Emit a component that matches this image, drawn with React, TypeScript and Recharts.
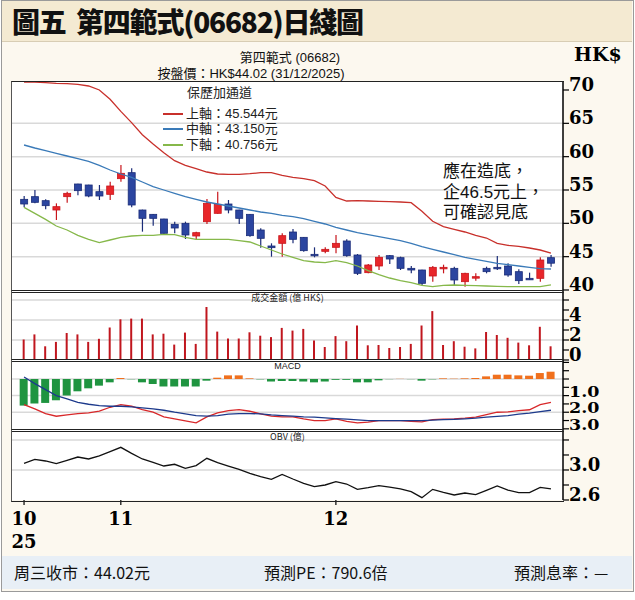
import React from 'react';
import { ComposedChart, Bar, Line, XAxis, YAxis, CartesianGrid, Cell } from 'recharts';

// Trading days, 20 Oct 2025 - 31 Dec 2025
const days = [
  '10-20','10-21','10-22','10-23','10-24','10-27','10-28','10-30','10-31',
  '11-03','11-04','11-05','11-06','11-07','11-10','11-11','11-12','11-13','11-14','11-17','11-18','11-19','11-20','11-21','11-24','11-25','11-26','11-27','11-28',
  '12-01','12-02','12-03','12-04','12-05','12-08','12-09','12-10','12-11','12-12','12-15','12-16','12-17','12-18','12-19','12-22','12-23','12-24','12-29','12-30','12-31',
];

const openP = [53.6,54.0,53.4,52.0,54.0,55.9,55.75,54.75,54.35,56.7,57.6,52.0,51.35,50.65,49.85,50.0,48.1,50.25,51.5,52.9,52.0,51.35,49.0,46.6,47.0,48.7,47.9,45.35,45.8,46.4,47.35,45.25,42.6,43.6,45.15,44.85,43.25,43.0,42.1,43.25,43.25,41.25,41.85,43.25,43.4,43.6,42.75,41.75,41.75,44.85];
const highP = [54.1,55.0,53.6,53.0,54.75,55.95,55.8,55.75,56.25,58.75,58.25,52.05,51.4,50.7,50.25,50.25,48.75,53.65,54.75,53.5,52.05,51.4,49.25,47.0,48.5,49.15,47.95,46.4,46.4,48.25,47.6,45.4,43.9,45.25,45.25,45.0,43.6,43.05,43.6,43.8,43.5,42.6,42.5,43.5,45.1,44.0,43.1,42.6,44.9,45.25];
const lowP = [52.4,53.0,52.1,50.5,53.1,54.2,53.9,53.5,53.5,56.25,52.4,48.75,49.65,48.4,48.5,47.65,47.6,49.9,51.45,51.5,49.9,48.0,46.35,45.0,45.0,47.0,45.75,44.9,45.5,45.5,45.0,42.25,42.5,43.0,43.9,43.0,42.5,40.75,41.25,42.5,40.75,40.5,41.4,42.5,43.0,42.0,40.9,41.5,41.25,43.5];
const closeP = [52.9,53.15,52.65,52.5,54.5,54.9,54.1,54.1,55.6,57.5,52.75,50.75,50.75,48.5,49.3,48.25,48.6,53.0,52.85,52.0,50.75,48.15,47.75,46.35,48.15,47.6,45.9,45.15,46.1,47.0,45.15,42.5,43.75,44.9,44.65,43.25,43.0,41.0,43.4,43.4,41.5,42.5,42.0,42.75,43.2,42.25,41.4,41.6,44.5,44.02];

const bollUpper = [71.2,71.2,71.1,71.0,70.95,70.85,70.6,70.0,68.6,66.8,65.1,63.3,61.9,60.6,59.4,58.7,58.2,57.7,57.4,57.35,57.35,57.45,57.6,57.6,57.2,56.9,56.7,56.4,55.6,53.9,53.35,53.4,53.35,53.3,53.25,53.2,53.1,51.8,50.3,49.5,49.1,48.7,48.2,47.8,47.0,46.7,46.55,46.3,46.0,45.544];
const bollMiddle = [61.75,61.3,60.9,60.5,60.1,59.7,59.3,58.7,58.0,57.4,56.9,56.2,55.5,55.0,54.5,54.0,53.6,53.2,52.9,52.6,52.3,52.0,51.7,51.5,51.2,51.0,50.7,50.3,49.9,49.4,49.0,48.6,48.3,48.0,47.7,47.4,47.0,46.5,46.1,45.7,45.3,44.9,44.6,44.3,44.0,43.8,43.6,43.4,43.2,43.15];
const bollLower = [52.4,51.5,50.6,49.6,49.0,48.2,47.6,47.1,47.5,47.9,48.1,48.2,48.2,48.35,48.3,47.9,47.6,47.6,47.6,47.6,47.4,47.2,46.6,46.0,45.4,44.9,44.4,44.2,44.1,44.4,44.1,43.6,42.9,42.3,41.8,41.4,41.1,40.7,40.5,40.7,40.75,40.7,40.65,40.6,40.55,40.5,40.5,40.5,40.5,40.756];

// 成交金額 (億 HK$)
const turnover = [2.05,2.56,1.37,1.81,2.7,2.56,1.81,2.12,3.25,4.07,4.14,4.14,2.56,2.63,1.54,2.74,1.61,5.3,2.84,2.15,2.15,2.77,2.43,2.29,3.21,2.94,3.11,1.95,1.3,2.39,1.88,3.45,1.47,1.5,1.2,1.3,1.61,3.45,4.89,1.5,1.88,1.33,1.16,2.8,2.5,2.22,1.74,1.47,3.32,1.37];

// MACD
const macdHist = [-1.6,-1.48,-1.44,-1.28,-1.0,-0.74,-0.56,-0.4,-0.2,0.06,-0.02,-0.2,-0.3,-0.45,-0.45,-0.45,-0.45,-0.1,0.08,0.22,0.22,0.04,-0.02,-0.15,-0.12,-0.12,-0.15,-0.2,-0.15,-0.05,-0.05,-0.2,-0.2,-0.08,-0.01,0.01,-0.01,-0.1,-0.02,0.04,0.02,0.04,0.06,0.16,0.26,0.26,0.22,0.2,0.36,0.44];
const macdDif = [-1.54,-1.8,-2.08,-2.24,-2.16,-2.08,-2.04,-1.94,-1.7,-1.54,-1.64,-1.84,-2.0,-2.28,-2.4,-2.52,-2.64,-2.28,-2.04,-1.9,-1.84,-1.94,-2.1,-2.24,-2.28,-2.28,-2.4,-2.5,-2.5,-2.4,-2.55,-2.64,-2.6,-2.5,-2.5,-2.5,-2.55,-2.58,-2.45,-2.42,-2.4,-2.36,-2.3,-2.14,-2.0,-1.98,-1.9,-1.85,-1.54,-1.4];
const macdDea = [0.12,-0.28,-0.64,-1.0,-1.2,-1.4,-1.52,-1.6,-1.64,-1.64,-1.68,-1.74,-1.8,-1.88,-2.0,-2.1,-2.2,-2.24,-2.2,-2.12,-2.08,-2.08,-2.1,-2.16,-2.2,-2.24,-2.28,-2.3,-2.34,-2.38,-2.42,-2.46,-2.5,-2.5,-2.5,-2.5,-2.5,-2.5,-2.48,-2.45,-2.43,-2.4,-2.36,-2.3,-2.25,-2.2,-2.12,-2.05,-1.96,-1.88];

// OBV (億)
const obv = [3.089,3.142,3.12,3.084,3.129,3.173,3.147,3.187,3.244,3.302,3.222,3.147,3.102,3.053,3.076,3.022,3.058,3.156,3.098,3.053,3.009,2.956,2.911,2.876,2.942,2.88,2.822,2.778,2.8,2.844,2.813,2.742,2.764,2.791,2.773,2.747,2.711,2.631,2.742,2.702,2.667,2.693,2.671,2.729,2.787,2.733,2.698,2.698,2.769,2.747];

const xTickIdx = [0, 9, 29];
const xTickLabels = [['10', '25'], ['11'], ['12']];

const priceTicks = [40, 45, 50, 55, 60, 65, 70];
const priceGrid = [45, 50, 55, 60, 65];
const volTicks = [0, 1, 2, 3, 4, 5, 6];
const volLabels: Record<number, string> = { 0: '0', 2: '2', 4: '4' };
const volGrid = [2, 4, 6];
const macdTicks = [1, 0.5, 0, -0.5, -1, -1.5, -2, -2.5, -3];
const macdLabels: Record<number, string> = { [-1]: '1.0', [-2]: '2.0', [-3]: '3.0' };
const macdGrid = [0, -1, -2];
const obvTicks = [2.6, 2.8, 3.0, 3.2, 3.4];
const obvLabels: Record<number, string> = { 2.6: '2.6', 3: '3.0' };
const obvGrid = [3.0, 3.4];

const data = days.map((d, i) => ({
  i,
  d,
  open: openP[i],
  high: highP[i],
  low: lowP[i],
  close: closeP[i],
  range: [lowP[i], highP[i]],
  upper: bollUpper[i],
  middle: bollMiddle[i],
  lower: bollLower[i],
  vol: turnover[i],
  hist: macdHist[i],
  dif: macdDif[i],
  dea: macdDea[i],
  obv: obv[i],
}));

const W = 635;
const PL = 12;
const AXW = 72;
const XDOM: [number, number] = [-1.12, 50.12];
const CJK = "'Noto Sans CJK TC', 'Noto Sans', sans-serif";
const LAT_CJK = "'Liberation Sans', 'Noto Sans CJK TC', sans-serif";
const SERIF = "'DejaVu Serif', serif";

const Candle = (props: any) => {
  const { x, y, width, height, payload } = props;
  if (!payload) return null;
  const { open, close, high, low } = payload;
  const y0 = height < 0 ? y + height : y;
  const h = Math.abs(height);
  const span = high - low || 1;
  const py = (v: number) => y0 + ((high - v) / span) * h;
  const up = close > open;
  const cx = x + width / 2;
  const top = py(Math.max(open, close));
  const bot = py(Math.min(open, close));
  const bh = Math.max(bot - top, 1.5);
  const fill = up ? '#e8262a' : '#2b45a0';
  const stroke = up ? '#c8161c' : '#1b2c78';
  return (
    <g>
      <line x1={cx} y1={y0} x2={cx} y2={y0 + h} stroke={stroke} strokeWidth={1.2} />
      <rect x={x} y={top} width={width} height={bh} fill={fill} stroke={stroke} strokeWidth={0.8} />
    </g>
  );
};

const makeRightTick = (labels: Record<number, string> | null, fs = 18, sx = 1) => (props: any) => {
  const { x, y, payload } = props;
  const v = payload.value;
  const key = Object.keys(labels || {}).find((k) => Math.abs(Number(k) - v) < 1e-6);
  const label = labels === null ? String(v) : key !== undefined ? (labels as any)[key] : '';
  return (
    <g>
      <line x1={x} y1={y} x2={x + 6} y2={y} stroke="#000" strokeWidth={1.2} />
      {label ? (
        <text
          x={0}
          y={0}
          transform={`translate(${x + 6},${y + 1}) scale(${sx},1)`}
          fontFamily={SERIF}
          fontWeight="bold"
          fontSize={fs}
          fill="#000"
          textAnchor="start"
        >
          {label}
        </text>
      ) : null}
    </g>
  );
};

const BottomTick = (props: any) => {
  const { x, y, payload } = props;
  const idx = xTickIdx.indexOf(payload.value);
  const lines = idx >= 0 ? xTickLabels[idx] : [];
  return (
    <g>
      <line x1={x} y1={y} x2={x} y2={y + 5} stroke="#000" strokeWidth={1.2} />
      {lines.map((t, k) => (
        <text key={k} x={x} y={y + 25 + k * 23} fontFamily={SERIF} fontWeight="bold" fontSize={18} fill="#000" textAnchor="middle">
          {t}
        </text>
      ))}
    </g>
  );
};

const panelBox = (top: number, height: number): React.CSSProperties => ({
  position: 'absolute',
  left: PL,
  top,
  width: W - PL - AXW,
  height,
  background: '#fff',
});

const panelBorder = (top: number, height: number): React.CSSProperties => ({
  position: 'absolute',
  left: PL - 1,
  top: top - 1,
  width: W - PL - AXW + 1,
  height: height + 1,
  borderLeft: '1px solid #555',
  borderTop: '1.5px solid #222',
  borderBottom: '1.5px solid #222',
  pointerEvents: 'none',
});

const abs = (left: number, top: number, extra: React.CSSProperties = {}): React.CSSProperties => ({
  position: 'absolute',
  left,
  top,
  whiteSpace: 'nowrap',
  ...extra,
});

export default function App() {
  const MAIN_T = 82, MAIN_H = 208;
  const VOL_T = 291, VOL_H = 69;
  const MACD_T = 360, MACD_H = 70;
  const OBV_T = 430, OBV_H = 70;
  const margin = { left: PL, right: 0, top: 0, bottom: 0 };

  return (
    <div style={{ position: 'absolute', left: 0, top: 0, width: W, height: 600, background: '#fff', fontFamily: CJK }}>
      <style>{'.recharts-surface{overflow:visible}.recharts-wrapper{overflow:visible}'}</style>
      {/* frame */}
      <div style={{ position: 'absolute', left: 1, top: 0, width: 631, height: 590, background: '#fcf8ef', border: '1.5px solid #9a9a9a' }} />
      {/* title bar */}
      <div style={{ position: 'absolute', left: 2, top: 1, width: 630, height: 40, background: '#f4ead2', borderBottom: '1px solid #d8cdb4' }} />
      <div style={abs(12, 1, { fontSize: 28, fontWeight: 900, color: '#111', lineHeight: '40px', letterSpacing: -1.2 })}>
        圖五&nbsp;&nbsp;第四範式(06682)日綫圖
      </div>
      {/* header */}
      <div style={abs(0, 50, { width: 580, textAlign: 'center', fontFamily: LAT_CJK, fontSize: 13, lineHeight: '15px', color: '#111' })}>
        第四範式 (06682)
      </div>
      <div style={abs(0, 66, { width: 502, textAlign: 'center', fontFamily: LAT_CJK, fontSize: 13, lineHeight: '15px', color: '#111' })}>
        按盤價：HK$44.02 (31/12/2025)
      </div>
      <div style={abs(574, 43, { fontFamily: SERIF, fontWeight: 'bold', fontSize: 19, color: '#000' })}>HK$</div>

      {/* panel backgrounds */}
      <div style={panelBox(MAIN_T, MAIN_H)} />
      <div style={panelBox(VOL_T, VOL_H)} />
      <div style={panelBox(MACD_T, MACD_H)} />
      <div style={panelBox(OBV_T, OBV_H)} />

      {/* Main price chart */}
      <div style={{ position: 'absolute', left: 0, top: MAIN_T }}>
        <ComposedChart width={W} height={MAIN_H} data={data} margin={margin}>
          <CartesianGrid vertical={false} horizontalValues={priceGrid} stroke="#d9d9d9" strokeWidth={1.5} />
          <XAxis dataKey="i" type="number" domain={XDOM} hide allowDataOverflow />
          <YAxis
            orientation="right"
            width={AXW}
            domain={[40, 71.2]}
            ticks={priceTicks}
            allowDataOverflow
            interval={0}
            tickSize={0}
            tickMargin={0}
            axisLine={{ stroke: '#000', strokeWidth: 1.5 }}
            tickLine={false}
            tick={makeRightTick(null)}
          />
          <Line dataKey="upper" stroke="#c8302b" strokeWidth={1.3} dot={false} isAnimationActive={false} />
          <Line dataKey="middle" stroke="#3a7ab8" strokeWidth={1.3} dot={false} isAnimationActive={false} />
          <Line dataKey="lower" stroke="#86b84a" strokeWidth={1.3} dot={false} isAnimationActive={false} />
          <Bar dataKey="range" barSize={7} shape={Candle} isAnimationActive={false} />
        </ComposedChart>
      </div>

      {/* Volume chart */}
      <div style={{ position: 'absolute', left: 0, top: VOL_T }}>
        <ComposedChart width={W} height={VOL_H} data={data} margin={margin}>
          <CartesianGrid vertical={false} horizontalValues={volGrid} stroke="#d9d9d9" strokeWidth={1.5} />
          <XAxis dataKey="i" type="number" domain={XDOM} hide allowDataOverflow />
          <YAxis
            orientation="right"
            width={AXW}
            domain={[0, 6.9]}
            ticks={volTicks}
            interval={0}
            allowDataOverflow
            tickSize={0}
            tickMargin={0}
            axisLine={{ stroke: '#000', strokeWidth: 1.5 }}
            tickLine={false}
            tick={makeRightTick(volLabels)}
          />
          <Bar dataKey="vol" barSize={2} fill="#c0161e" isAnimationActive={false} />
        </ComposedChart>
      </div>

      {/* MACD chart */}
      <div style={{ position: 'absolute', left: 0, top: MACD_T }}>
        <ComposedChart width={W} height={MACD_H} data={data} margin={margin}>
          <CartesianGrid vertical={false} horizontalValues={macdGrid} stroke="#d9d9d9" strokeWidth={1.5} />
          <XAxis dataKey="i" type="number" domain={XDOM} hide allowDataOverflow />
          <YAxis
            orientation="right"
            width={AXW}
            domain={[-3.07, 1.145]}
            ticks={macdTicks}
            interval={0}
            allowDataOverflow
            tickSize={0}
            tickMargin={0}
            axisLine={{ stroke: '#000', strokeWidth: 1.5 }}
            tickLine={false}
            tick={makeRightTick(macdLabels, 14, 1.25)}
          />
          <Bar dataKey="hist" barSize={8} isAnimationActive={false}>
            {data.map((d, k) => (
              <Cell key={k} fill={d.hist >= 0 ? '#f0701e' : '#1f9440'} />
            ))}
          </Bar>
          <Line dataKey="dif" stroke="#d8282a" strokeWidth={1.3} dot={false} isAnimationActive={false} />
          <Line dataKey="dea" stroke="#1d3a8c" strokeWidth={1.3} dot={false} isAnimationActive={false} />
        </ComposedChart>
      </div>

      {/* OBV chart */}
      <div style={{ position: 'absolute', left: 0, top: OBV_T }}>
        <ComposedChart width={W} height={OBV_H + 55} data={data} margin={margin}>
          <CartesianGrid vertical={false} horizontalValues={obvGrid} stroke="#d9d9d9" strokeWidth={1.5} />
          <XAxis
            dataKey="i"
            type="number"
            domain={XDOM}
            allowDataOverflow
            ticks={xTickIdx}
            interval={0}
            height={55}
            tickSize={0}
            tickMargin={0}
            axisLine={false}
            tickLine={false}
            tick={BottomTick}
          />
          <YAxis
            orientation="right"
            width={AXW}
            domain={[2.6, 3.533]}
            ticks={obvTicks}
            interval={0}
            allowDataOverflow
            tickSize={0}
            tickMargin={0}
            axisLine={{ stroke: '#000', strokeWidth: 1.5 }}
            tickLine={false}
            tick={makeRightTick(obvLabels)}
          />
          <Line dataKey="obv" stroke="#111" strokeWidth={1.3} dot={false} isAnimationActive={false} />
        </ComposedChart>
      </div>

      {/* panel borders */}
      <div style={panelBorder(MAIN_T, MAIN_H + 1)} />
      <div style={panelBorder(VOL_T, VOL_H)} />
      <div style={panelBorder(MACD_T, MACD_H)} />
      <div style={panelBorder(OBV_T, OBV_H)} />

      {/* panel titles */}
      <div style={abs(0, VOL_T + 1, { width: 575, textAlign: 'center', fontSize: 9, lineHeight: '11px', color: '#222' })}>成交金額 (億 HK$)</div>
      <div style={abs(0, MACD_T + 1, { width: 575, textAlign: 'center', fontSize: 9, lineHeight: '11px', color: '#222', fontFamily: 'Arial, sans-serif' })}>MACD</div>
      <div style={abs(0, OBV_T + 1, { width: 575, textAlign: 'center', fontSize: 9, lineHeight: '11px', color: '#222' })}>OBV (億)</div>

      {/* legend */}
      <div style={abs(187, 85, { fontFamily: LAT_CJK, fontSize: 13, lineHeight: '15px', color: '#222' })}>保歷加通道</div>
      <div style={{ position: 'absolute', left: 163, top: 113, width: 20, height: 1.5, background: '#c8302b' }} />
      <div style={{ position: 'absolute', left: 163, top: 128, width: 20, height: 1.5, background: '#3a7ab8' }} />
      <div style={{ position: 'absolute', left: 163, top: 144, width: 20, height: 1.5, background: '#86b84a' }} />
      <div style={abs(186, 106, { fontFamily: LAT_CJK, fontSize: 13, lineHeight: '15px', color: '#222' })}>上軸：45.544元</div>
      <div style={abs(186, 121, { fontFamily: LAT_CJK, fontSize: 13, lineHeight: '15px', color: '#222' })}>中軸：43.150元</div>
      <div style={abs(186, 137, { fontFamily: LAT_CJK, fontSize: 13, lineHeight: '15px', color: '#222' })}>下軸：40.756元</div>

      {/* annotation */}
      <div style={abs(443, 162, { fontFamily: LAT_CJK, fontSize: 17, lineHeight: '20.5px', color: '#111' })}>
        應在造底，<br />企46.5元上，<br />可確認見底
      </div>

      {/* footer */}
      <div style={{ position: 'absolute', left: 2, top: 556, width: 630, height: 33, background: '#e8eff6' }} />
      <div style={abs(14, 560, { fontSize: 16, lineHeight: '24px', color: '#111' })}>周三收市：44.02元</div>
      <div style={abs(264, 560, { fontSize: 16, lineHeight: '24px', color: '#111' })}>預測PE：790.6倍</div>
      <div style={abs(514, 560, { fontSize: 16, lineHeight: '24px', color: '#111' })}>預測息率：—</div>
    </div>
  );
}
